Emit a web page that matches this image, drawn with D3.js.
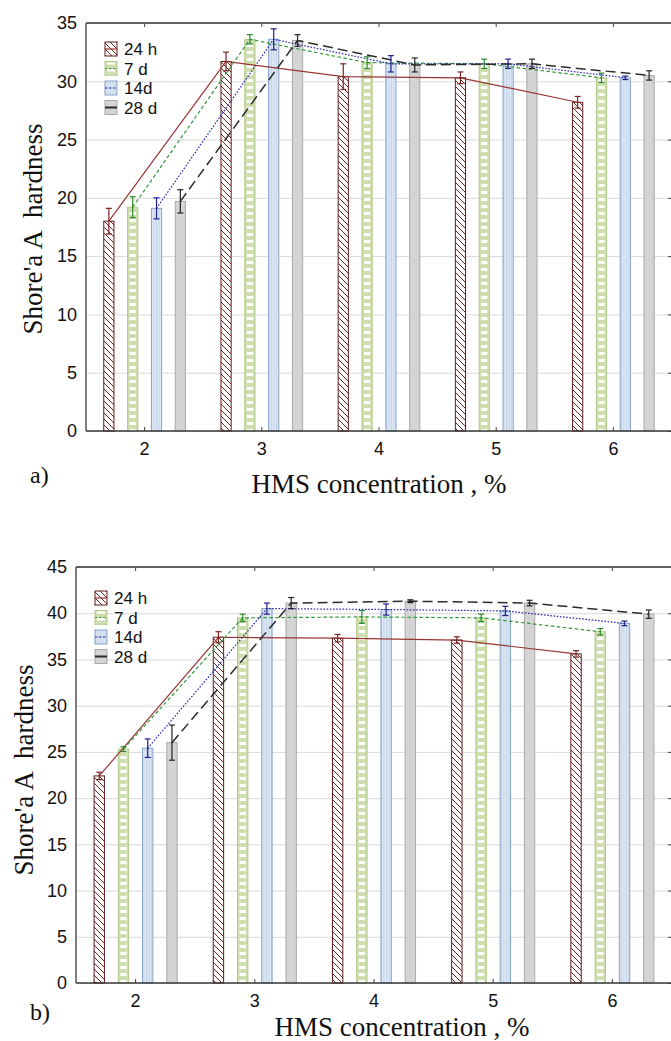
<!DOCTYPE html>
<html>
<head>
<meta charset="UTF-8">
<script src="https://cdn.jsdelivr.net/npm/d3@7"></script>
<style>
  body { margin: 0; background: #fff; }
  svg { display: block; }
</style>
</head>
<body>
<svg id="fig" width="671" height="1041"></svg>
<script>

// categories (HMS concentration, %) and curing times
const categories = ["2", "3", "4", "5", "6"];
const seriesNames = ["24 h", "7 d", "14d", "28 d"];

// panel a) - Shore A hardness, means and error half-widths
const a24h    = [18.0, 31.7, 30.4, 30.3, 28.2];
const a24hErr = [1.1, 0.8, 1.1, 0.5, 0.5];
const a7d     = [19.2, 33.6, 31.6, 31.5, 30.3];
const a7dErr  = [0.9, 0.4, 0.5, 0.4, 0.4];
const a14d    = [19.1, 33.6, 31.5, 31.5, 30.3];
const a14dErr = [0.9, 0.9, 0.7, 0.4, 0.15];
const a28d    = [19.7, 33.5, 31.4, 31.5, 30.5];
const a28dErr = [1.0, 0.5, 0.6, 0.4, 0.4];
const yTicksA = [0, 5, 10, 15, 20, 25, 30, 35];

// panel b)
const b24h    = [22.4, 37.4, 37.3, 37.1, 35.6];
const b24hErr = [0.4, 0.6, 0.4, 0.35, 0.35];
const b7d     = [25.3, 39.5, 39.6, 39.5, 38.0];
const b7dErr  = [0.25, 0.4, 0.7, 0.4, 0.35];
const b14d    = [25.4, 40.5, 40.4, 40.25, 38.9];
const b14dErr = [1.0, 0.6, 0.6, 0.5, 0.25];
const b28d    = [26.0, 41.1, 41.3, 41.1, 39.9];
const b28dErr = [1.9, 0.6, 0.15, 0.3, 0.45];
const yTicksB = [0, 5, 10, 15, 20, 25, 30, 35, 40, 45];

const svg = d3.select('#fig');

// look of each series
const looks = [
  { fill: 'url(#hatch24)', stroke: '#5e1c1c', line: '#9a3535', dash: null,  err: '#7a2424', lw: 1.2 },
  { fill: '#cfdeae',       stroke: '#b3c98c', line: '#2f9a36', dash: '3.5,2.5', err: '#2a8a2a', lw: 1.2 },
  { fill: 'url(#vline14)', stroke: '#86a3c8', line: '#2a2ab4', dash: '1.6,1.6', err: '#1e1e8a', lw: 1.2 },
  { fill: '#d4d4d4',       stroke: '#a9a9a9', line: '#2b2b2b', dash: '10,5', err: '#222', lw: 1.5 }
];

// patterns
const defs = svg.append('defs');
const hatch = defs.append('pattern').attr('id', 'hatch24')
  .attr('patternUnits', 'userSpaceOnUse').attr('width', 6).attr('height', 6);
hatch.append('rect').attr('width', 6).attr('height', 6).attr('fill', '#fff');
hatch.append('path').attr('d', 'M-1,-1 L7,7 M-1,5 L1,7 M5,-1 L7,1')
  .attr('stroke', '#6e2323').attr('stroke-width', 1);

const stripe = defs.append('pattern').attr('id', 'stripe7')
  .attr('patternUnits', 'userSpaceOnUse').attr('width', 4).attr('height', 7);
stripe.append('rect').attr('width', 4).attr('height', 3).attr('fill', '#fff');

const vline = defs.append('pattern').attr('id', 'vline14')
  .attr('patternUnits', 'userSpaceOnUse').attr('width', 2.5).attr('height', 4);
vline.append('rect').attr('width', 2.5).attr('height', 4).attr('fill', '#dde8f4');
vline.append('line').attr('x1', 0.5).attr('x2', 0.5).attr('y1', 0).attr('y2', 4)
  .attr('stroke', '#b6c8de').attr('stroke-width', 0.7);

function drawPanel(cfg) {
  const w = cfg.right - cfg.left;
  const h = cfg.bottom - cfg.top;
  const g = svg.append('g').attr('transform', `translate(${cfg.left},${cfg.top})`);

  const x = d3.scaleBand().domain(categories).range([0, w]).padding(0);
  const bw = x.bandwidth();
  const xs = d3.scalePoint().domain(seriesNames).range([-0.305 * bw, 0.305 * bw]);
  const barW = 0.087 * bw;
  const y = d3.scaleLinear().domain([0, cfg.yMax]).range([h, 0]);

  const cx = (c, s) => x(c) + bw / 2 + xs(s);

  // grid
  g.append('g').attr('class', 'grid')
    .call(d3.axisLeft(y).tickValues(cfg.yTicks).tickSize(-w).tickFormat(''))
    .call(a => a.select('.domain').remove())
    .call(a => a.selectAll('line').attr('stroke', '#d9d9d9').attr('stroke-width', 1));

  // series data
  const series = seriesNames.map((s, i) => ({
    name: s, look: looks[i],
    pts: categories.map((c, j) => ({ c: c, v: cfg.values[i][j], e: cfg.errors[i][j] }))
  }));

  // bars
  series.forEach(s => {
    const sg = g.append('g');
    sg.selectAll('rect.bar').data(s.pts).join('rect')
      .attr('class', 'bar')
      .attr('x', d => cx(d.c, s.name) - barW / 2)
      .attr('y', d => y(d.v))
      .attr('width', barW)
      .attr('height', d => h - y(d.v))
      .attr('fill', s.look.fill)
      .attr('stroke', s.look.stroke)
      .attr('stroke-width', 1);
    if (s.name === '7 d') {
      sg.selectAll('rect.inner').data(s.pts).join('rect')
        .attr('class', 'inner')
        .attr('x', d => cx(d.c, s.name) - barW / 2 + 2)
        .attr('y', d => y(d.v) + 1)
        .attr('width', barW - 4)
        .attr('height', d => h - y(d.v) - 1)
        .attr('fill', 'url(#stripe7)');
    }
  });

  // lines through bar tops
  series.forEach(s => {
    const line = d3.line().x(d => cx(d.c, s.name)).y(d => y(d.v));
    g.append('path').datum(s.pts)
      .attr('d', line)
      .attr('fill', 'none')
      .attr('stroke', s.look.line)
      .attr('stroke-width', s.look.lw)
      .attr('stroke-dasharray', s.look.dash);
  });

  // error bars
  series.forEach(s => {
    const eg = g.append('g').attr('stroke', s.look.err).attr('stroke-width', 1.2);
    s.pts.forEach(d => {
      const xc = cx(d.c, s.name);
      eg.append('line').attr('x1', xc).attr('x2', xc).attr('y1', y(d.v - d.e)).attr('y2', y(d.v + d.e));
      eg.append('line').attr('x1', xc - 3).attr('x2', xc + 3).attr('y1', y(d.v - d.e)).attr('y2', y(d.v - d.e));
      eg.append('line').attr('x1', xc - 3).attr('x2', xc + 3).attr('y1', y(d.v + d.e)).attr('y2', y(d.v + d.e));
    });
  });

  // axes
  g.append('g')
    .call(d3.axisLeft(y).tickValues(cfg.yTicks).tickSize(0).tickPadding(9))
    .call(a => a.select('.domain').remove())
    .call(a => a.selectAll('text').attr('font-size', 18).attr('fill', '#111')
      .attr('font-family', 'Liberation Sans, Arial, sans-serif'));

  g.append('g').attr('transform', `translate(0,${h})`)
    .call(d3.axisBottom(x).tickSize(-4).tickPadding(11))
    .call(a => a.select('.domain').remove())
    .call(a => a.selectAll('line').attr('stroke', '#444'))
    .call(a => a.selectAll('text').attr('font-size', 18).attr('fill', '#111')
      .attr('font-family', 'Liberation Sans, Arial, sans-serif'));

  g.append('g')
    .call(d3.axisTop(x).tickSize(-4).tickFormat(''))
    .call(a => a.select('.domain').remove())
    .call(a => a.selectAll('line').attr('stroke', '#444'));

  g.append('g').attr('transform', `translate(${w},0)`)
    .call(d3.axisLeft(y).tickValues(cfg.yTicks).tickSize(4).tickFormat(''))
    .call(a => a.select('.domain').remove())
    .call(a => a.selectAll('line').attr('stroke', '#444'));

  // frame
  g.append('line').attr('x1', 0).attr('x2', w).attr('y1', 0).attr('y2', 0)
    .attr('stroke', '#606060').attr('stroke-width', 2);
  g.append('line').attr('x1', 0).attr('x2', w).attr('y1', h).attr('y2', h)
    .attr('stroke', '#3a3a3a').attr('stroke-width', 1.5);
  g.append('line').attr('x1', 0).attr('x2', 0).attr('y1', 0).attr('y2', h)
    .attr('stroke', '#555').attr('stroke-width', 1.5);

  // legend
  const lg = svg.append('g').attr('transform', `translate(${cfg.legend[0]},${cfg.legend[1]})`);
  series.forEach((s, i) => {
    const row = lg.append('g').attr('transform', `translate(0,${i * 19.5})`);
    row.append('rect').attr('x', 0).attr('y', -7).attr('width', 12).attr('height', 14)
      .attr('fill', s.look.fill).attr('stroke', s.look.stroke).attr('stroke-width', 1);
    if (s.name === '7 d') {
      row.append('rect').attr('x', 2).attr('y', -6).attr('width', 8).attr('height', 13)
        .attr('fill', 'url(#stripe7)');
    }
    row.append('line').attr('x1', 0).attr('x2', 12).attr('y1', 0).attr('y2', 0)
      .attr('stroke', s.look.line).attr('stroke-width', s.name === '28 d' ? 2 : 1.2)
      .attr('stroke-dasharray', s.name === '28 d' ? null : (s.look.dash ? '2.5,1.5' : null));
    row.append('text').attr('x', 19).attr('y', 0).attr('dy', '0.36em')
      .attr('font-size', 17).attr('fill', '#111')
      .attr('font-family', 'Liberation Sans, Arial, sans-serif')
      .text(s.name);
  });

  // titles
  svg.append('text')
    .attr('transform', `translate(${cfg.yTitle[0]},${cfg.yTitle[1]}) rotate(-90)`)
    .attr('text-anchor', 'middle')
    .attr('font-family', 'Liberation Serif, Times New Roman, serif')
    .attr('font-size', 27).attr('fill', '#111')
    .attr('xml:space', 'preserve')
    .text("Shore'a A  hardness");

  svg.append('text')
    .attr('x', cfg.xTitle[0]).attr('y', cfg.xTitle[1])
    .attr('text-anchor', 'middle')
    .attr('font-family', 'Liberation Serif, Times New Roman, serif')
    .attr('font-size', 27).attr('fill', '#111')
    .text('HMS concentration , %');

  svg.append('text')
    .attr('x', cfg.tag[0]).attr('y', cfg.tag[1])
    .attr('font-family', 'Liberation Serif, Times New Roman, serif')
    .attr('font-size', 24).attr('fill', '#111')
    .text(cfg.tagText);
}

drawPanel({
  left: 86, right: 672, top: 23, bottom: 431, yMax: 35, yTicks: yTicksA,
  values: [a24h, a7d, a14d, a28d], errors: [a24hErr, a7dErr, a14dErr, a28dErr],
  legend: [105, 49], yTitle: [42, 229], xTitle: [379, 493], tag: [30, 483], tagText: 'a)'
});

drawPanel({
  left: 76, right: 672, top: 567, bottom: 983, yMax: 45, yTicks: yTicksB,
  values: [b24h, b7d, b14d, b28d], errors: [b24hErr, b7dErr, b14dErr, b28dErr],
  legend: [95, 598], yTitle: [33, 770], xTitle: [402, 1036], tag: [30, 1020], tagText: 'b)'
});

</script>
</body>
</html>
